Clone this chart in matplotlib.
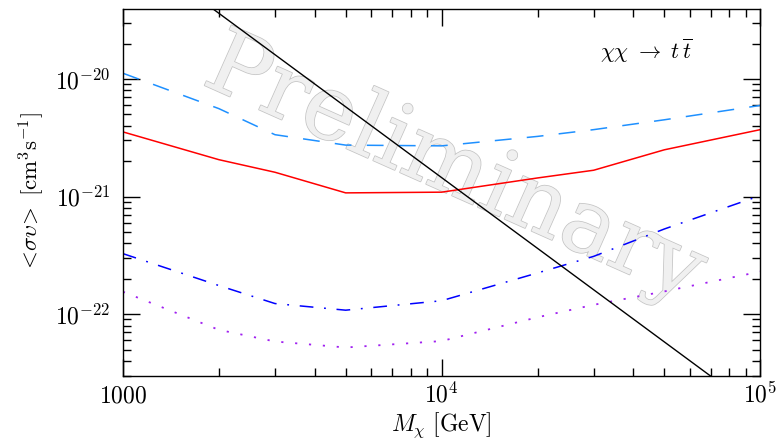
import matplotlib
matplotlib.use("Agg")
import matplotlib.pyplot as plt
import matplotlib.patheffects as pe
from matplotlib.ticker import LogLocator, NullFormatter, FixedLocator, FixedFormatter

plt.rcParams['mathtext.fontset'] = 'cm'
plt.rcParams['font.family'] = ['DejaVu Serif']

# data (mass in GeV, <sigma v> in cm^3 s^-1)
mass = [1000, 2000, 3000, 5000, 10000, 20000, 30000, 50000, 100000]
red_solid = [3.55e-21, 2.06e-21, 1.61e-21, 1.075e-21, 1.09e-21, 1.44e-21, 1.675e-21, 2.5e-21, 3.71e-21]
blue_dashed = [1.12e-20, 5.6e-21, 3.36e-21, 2.74e-21, 2.70e-21, 3.25e-21, 3.71e-21, 4.5e-21, 5.96e-21]
blue_dashdot = [3.27e-22, 1.75e-22, 1.23e-22, 1.08e-22, 1.3e-22, 2.24e-22, 3.1e-22, 5.3e-22, 1.02e-21]
purple_dotted = [1.55e-22, 7.35e-23, 5.85e-23, 5.2e-23, 5.9e-23, 9.4e-23, 1.2e-22, 1.56e-22, 2.3e-22]

black_mass = [1000, 100000]
black_sigv = [1.45e-19, 1.45e-23]

xticks = [1000, 10000, 100000]
xtick_labels = [r'$1000$', r'$10^4$', r'$10^5$']
yticks = [1e-22, 1e-21, 1e-20]
ytick_labels = [r'$10^{-22}$', r'$10^{-21}$', r'$10^{-20}$']
xlim = (1000, 100000)
ylim = (3.0e-23, 3.94e-20)

fig = plt.figure(figsize=(7.83, 4.40), dpi=100)
ax = fig.add_axes([0.157, 0.1464, 0.814, 0.8331])

ax.plot(mass, red_solid, color='red', lw=1.1)
ax.plot(mass, blue_dashed, color='#1e90ff', lw=1.1, dashes=(11, 10))
ax.plot(mass, blue_dashdot, color='blue', lw=1.1, dashes=(9, 7, 1.2, 7))
ax.plot(mass, purple_dotted, color='#a020f0', lw=1.3, dashes=(1.2, 6.5))
ax.plot(black_mass, black_sigv, color='black', lw=1.0)

ax.set_xscale('log')
ax.set_yscale('log')
ax.set_xlim(*xlim)
ax.set_ylim(*ylim)

ax.xaxis.set_major_locator(FixedLocator(xticks))
ax.xaxis.set_major_formatter(FixedFormatter(xtick_labels))
ax.xaxis.set_minor_locator(LogLocator(base=10, subs=range(2, 10)))
ax.xaxis.set_minor_formatter(NullFormatter())
ax.yaxis.set_major_locator(FixedLocator(yticks))
ax.yaxis.set_major_formatter(FixedFormatter(ytick_labels))
ax.yaxis.set_minor_locator(LogLocator(base=10, subs=range(2, 10)))
ax.yaxis.set_minor_formatter(NullFormatter())

ax.tick_params(which='both', direction='in', top=True, right=True, width=1.0,
               labelsize=17, colors='black')
ax.tick_params(which='major', length=12)
ax.tick_params(which='minor', length=6)
ax.tick_params(axis='y', which='major', pad=9)
ax.tick_params(axis='x', which='major', pad=19.5)
for lab in ax.get_xticklabels():
    lab.set_va('baseline')
for s in ax.spines.values():
    s.set_linewidth(1.0)

ax.set_xlabel(r'$M_\chi\ [\mathrm{GeV}]$', fontsize=17, labelpad=2)
ax.set_ylabel(r'$<\!\sigma\upsilon\!>\ [\mathrm{cm^3 s^{-1}}]$', fontsize=16.5, labelpad=6)

ax.text(0.821, 0.885, r'$\chi\chi\ \rightarrow\ t\,\overline{t}$', transform=ax.transAxes,
        fontsize=16, ha='center', va='center')

ax.text(0.505, 0.50, 'Preliminary', transform=ax.transAxes, fontsize=65,
        family=['DejaVu Serif'], fontweight='normal',
        color='#f0f0f0', rotation=-24, rotation_mode='anchor', ha='center', va='baseline',
        zorder=0, path_effects=[pe.withStroke(linewidth=1.1, foreground='#c4c4c4')])

fig.savefig('out.png', dpi=100)
